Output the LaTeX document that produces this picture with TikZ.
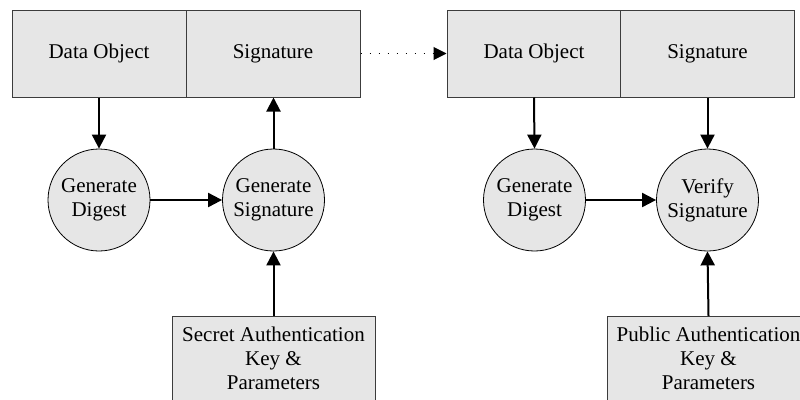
\documentclass[tikz,border=0pt]{standalone}
\usepackage{fontspec}
\setmainfont{Liberation Serif}
\usetikzlibrary{arrows.meta}
\definecolor{boxfill}{RGB}{230,230,230}
\definecolor{edge}{RGB}{60,60,60}
\begin{document}
\begin{tikzpicture}[x=1pt,y=-1pt,
  every node/.style={font=\fontsize{21}{24}\selectfont, align=center, inner sep=0pt},
  half/.style={draw=edge, line width=1pt, fill=boxfill, minimum width=174pt, minimum height=87pt},
  keybox/.style={draw=edge, line width=1pt, fill=boxfill, minimum width=203pt, anchor=north},
  proc/.style={circle, draw=black, line width=0.8pt, fill=boxfill, minimum size=102pt},
  flow/.style={line width=2pt, -{Triangle[length=14pt,width=14pt]}},
  dotflow/.style={line width=1pt, dash pattern=on 1pt off 8pt, -{Triangle[length=13pt,width=13pt]}}
]
\useasboundingbox (0,0) rectangle (800,399);
\clip (0,0) rectangle (800,399);
% top records
\node[half] (do1) at (99,53.5) {Data Object};
\node[half] (sig1) at (273,53.5) {Signature};
\node[half] (do2) at (534,53.5) {Data Object};
\node[half] (sig2) at (707.5,53.5) {Signature};
% processes
\node[proc] (gd1) at (99,200) {Generate\\Digest};
\node[proc] (gs1) at (273.5,200) {Generate\\Signature};
\node[proc] (gd2) at (534.5,200) {Generate\\Digest};
\node[proc] (vs2) at (707.5,200) {Verify\\Signature};
% key boxes
\node[keybox] (sk) at (273.5,316) {\rule{0pt}{25pt}Secret Authentication\\Key \&\\Parameters\rule[-20pt]{0pt}{1pt}};
\node[keybox] (pk) at (708.5,316) {\rule{0pt}{25pt}Public Authentication\\Key \&\\Parameters\rule[-20pt]{0pt}{1pt}};
% connectors
\draw[flow] (do1.south) -- (gd1.north);
\draw[flow] (gd1.east) -- (gs1.west);
\draw[flow] (gs1.north) -- (sig1.south -| gs1.north);
\draw[flow] (sk.north) -- (gs1.south);
\draw[dotflow] (sig1.east) -- (do2.west);
\draw[flow] (do2.south) -- (gd2.north);
\draw[flow] (sig2.south) -- (vs2.north);
\draw[flow] (gd2.east) -- (vs2.west);
\draw[flow] (pk.north) -- (vs2.south);
\end{tikzpicture}
\end{document}
